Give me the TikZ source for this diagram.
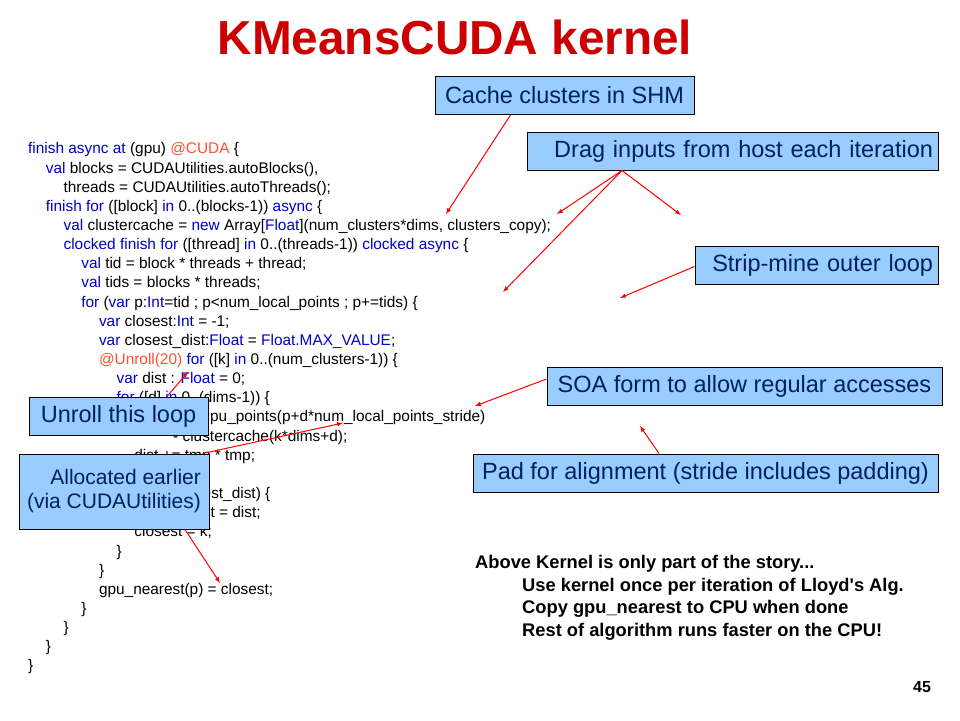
\documentclass[tikz,border=0pt]{standalone}
\usepackage{fontspec}
\setmainfont{Liberation Sans}
\usepackage{xcolor}
\usepackage{tikz}
\usetikzlibrary{arrows, positioning}

\definecolor{kwblue}{RGB}{0,0,204}
\definecolor{annorange}{RGB}{255,80,40}
\definecolor{titlered}{RGB}{204,0,0}
\definecolor{boxblue}{RGB}{153,204,255}
\definecolor{boxtext}{RGB}{0,32,96}

\newcommand{\kw}[1]{\textcolor{kwblue}{#1}}
\newcommand{\ann}[1]{\textcolor{annorange}{#1}}
\newlength{\codeind}
\setlength{\codeind}{17.7pt}
\newcommand{\ind}[1]{\hspace*{#1\codeind}}

\begin{document}
\begin{tikzpicture}[
    x=1pt, y=-1pt,
    box/.style={rectangle, draw=black, line width=1pt, fill=boxblue, text=boxtext, font=\fontsize{23.5}{28}\selectfont, minimum height=38pt, inner xsep=5pt, inner ysep=0pt},
    code/.style={anchor=north west, inner sep=0pt, align=left, font=\fontsize{15.4}{19.15}\selectfont},
    arrow/.style={->, >=latex, red, line width=1pt, shorten >=0pt}
]
\useasboundingbox (0,0) rectangle (960,720);

\node[font=\fontsize{47.7}{56}\selectfont\bfseries, text=titlered] (title) at (455,37) {KMeansCUDA kernel};

\node[code] (kernel) at (28,142.5) {%
\kw{finish async at} (gpu) \ann{@CUDA} \{\\
\ind{1}\kw{val} blocks = CUDAUtilities.autoBlocks(),\\
\ind{2}threads = CUDAUtilities.autoThreads();\\
\ind{1}\kw{finish for} ([block] \kw{in} 0..(blocks-1)) \kw{async} \{\\
\ind{2}\kw{val} clustercache = \kw{new} Array[\kw{Float}](num\_clusters*dims, clusters\_copy);\\
\ind{2}\kw{clocked finish for} ([thread] \kw{in} 0..(threads-1)) \kw{clocked async} \{\\
\ind{3}\kw{val} tid = block * threads + thread;\\
\ind{3}\kw{val} tids = blocks * threads;\\
\ind{3}\kw{for} (\kw{var} p:\kw{Int}=tid ; p<num\_local\_points ; p+=tids) \{\\
\ind{4}\kw{var} closest:\kw{Int} = -1;\\
\ind{4}\kw{var} closest\_dist:\kw{Float} = \kw{Float.MAX\_VALUE};\\
\ind{4}\ann{@Unroll(20)} \kw{for} ([k] \kw{in} 0..(num\_clusters-1)) \{\\
\ind{5}\kw{var} dist : \kw{Float} = 0;\\
\ind{5}\kw{for} ([d] \kw{in} 0..(dims-1)) \{\\
\ind{6}\kw{val} tmp = gpu\_points(p+d*num\_local\_points\_stride)\\
\hspace*{145pt}- clustercache(k*dims+d);\\
\ind{6}dist += tmp * tmp;\\
\ind{5}\}\\
\ind{5}\kw{if} (dist < closest\_dist) \{\\
\ind{6}closest\_dist = dist;\\
\ind{6}closest = k;\\
\ind{5}\}\\
\ind{4}\}\\
\ind{4}gpu\_nearest(p) = closest;\\
\ind{3}\}\\
\ind{2}\}\\
\ind{1}\}\\
\}};

\node[box, minimum width=259pt] (cache_shm) at (564.5,95.5) {Cache clusters in SHM};
\node[box, text width=401pt, align=right] (drag_inputs) at (732.5,151) {Drag inputs from host each iteration};
\node[box, text width=233pt, align=right] (strip_mine) at (816.5,265.5) {Strip-mine outer loop};
\node[box, minimum width=395pt] (soa_form) at (744.5,386) {SOA form to allow regular accesses};
\node[box, minimum width=465pt] (pad_align) at (705.5,473) {Pad for alignment (stride includes padding)};
\node[box, minimum width=179pt] (unroll_loop) at (118.5,416) {Unroll this loop};
\node[box, font=\fontsize{21}{24}\selectfont, minimum width=190pt, align=right, minimum height=75pt] (alloc_earlier) at (114,491.5) {Allocated earlier\\(via CUDAUtilities)};

\node[anchor=north west, inner sep=0pt, align=left, font=\fontsize{18.3}{22.7}\selectfont\bfseries] (story) at (475,555) {%
Above Kernel is only part of the story...\\
\hspace*{47pt}Use kernel once per iteration of Lloyd\textquotesingle s Alg.\\
\hspace*{47pt}Copy gpu\_nearest to CPU when done\\
\hspace*{47pt}Rest of algorithm runs faster on the CPU!};

\node[font=\fontsize{16}{19}\selectfont\bfseries] (page_no) at (922,687) {45};

\coordinate (t_cache) at (446,214);
\coordinate (t_drag_a) at (557,214);
\coordinate (t_drag_b) at (503,292);
\coordinate (t_drag_c) at (681,215);
\coordinate (t_strip) at (620,298);
\coordinate (t_soa) at (475,406);
\coordinate (t_pad) at (640,426);
\coordinate (t_unroll) at (188,372);
\coordinate (t_alloc_a) at (343,423);
\coordinate (t_alloc_b) at (220,583);

\draw[arrow] ([xshift=-54pt]cache_shm.south) -- (t_cache);
\draw[arrow] ([xshift=-110.5pt]drag_inputs.south) -- (t_drag_a);
\draw[arrow] ([xshift=-110.5pt]drag_inputs.south) -- (t_drag_b);
\draw[arrow] ([xshift=-110.5pt]drag_inputs.south) -- (t_drag_c);
\draw[arrow] ([yshift=-1pt]strip_mine.west) -- (t_strip);
\draw[arrow] ([yshift=7pt]soa_form.west) -- (t_soa);
\draw[arrow] ([xshift=-46.5pt]pad_align.north) -- (t_pad);
\draw[arrow] ([xshift=48.5pt]unroll_loop.north) -- (t_unroll);
\draw[arrow] ([xshift=-7pt]alloc_earlier.north east) -- (t_alloc_a);
\draw[arrow] ([xshift=71pt]alloc_earlier.south) -- (t_alloc_b);

\end{tikzpicture}
\end{document}
